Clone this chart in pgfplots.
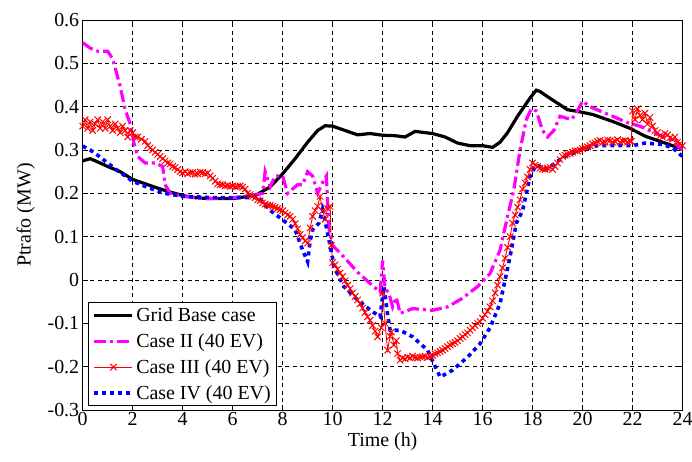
\documentclass[border=0pt]{standalone}
\usepackage{pgfplots}
\pgfplotsset{compat=1.18}
\usepackage{fontspec}
\setmainfont{Liberation Serif}
\newcommand\ff{\fontsize{20}{23}\selectfont}
\definecolor{mag}{RGB}{255,0,255}
\definecolor{rd}{RGB}{255,0,0}
\definecolor{bl}{RGB}{0,0,255}
\begin{document}
\begin{tikzpicture}
\path[use as bounding box] (-82.7bp,-52bp) rectangle (609.3bp,410bp);
\begin{axis}[
  at={(0,0)}, anchor=south west,
  scale only axis, width=599.8bp, height=390bp,
  xmin=0, xmax=24, ymin=-0.3, ymax=0.6,
  xtick={0,2,...,24},
  xticklabels={0,2,4,6,8,10,12,14,16,18,20,22,24},
  ytick={-0.3,-0.2,-0.1,0,0.1,0.2,0.3,0.4,0.5,0.6},
  yticklabels={-0.3,-0.2,-0.1,0,0.1,0.2,0.3,0.4,0.5,0.6},
  tick label style={font=\ff},
  xticklabel style={yshift=1bp},
  grid=major,
  major grid style={black, line width=0.5pt, dash pattern=on 4bp off 3.5bp},
  axis line style={line width=0.9pt},
  major tick length=5bp,
  tick style={black, line width=0.7pt},
  xlabel={Time (h)}, ylabel={Ptrafo (MW)},
  every axis x label/.style={at={(axis description cs:0.5,-0.082)}, anchor=center, font=\ff},
  every axis y label/.style={at={(axis description cs:-0.095,0.5)}, anchor=center, rotate=90, font=\ff},
  legend style={at={(axis description cs:0.0093,0.0103)}, anchor=south west, font=\ff,
    draw=black, line width=0.8pt, inner xsep=4bp, inner ysep=3bp, row sep=6.5bp, cells={anchor=west}},
  legend cell align=left,
  legend image code/.code={\draw[mark repeat=2, mark phase=2, #1] plot coordinates {(0bp,0bp) (19bp,0bp) (38bp,0bp)};},
]
\addplot[black, line width=3.2bp] coordinates {
(0,0.275)(0.3,0.28)(0.7,0.27)(1.0,0.262)(1.5,0.25)(2.0,0.232)(2.5,0.222)(3.0,0.212)(3.5,0.203)(4.0,0.195)(4.5,0.19)(5.0,0.188)(5.5,0.188)(6.0,0.188)(6.5,0.192)(7.0,0.198)(7.5,0.215)(8.0,0.245)(8.5,0.28)(9.0,0.318)(9.4,0.345)(9.7,0.356)(10.0,0.355)(10.5,0.345)(11.0,0.335)(11.5,0.338)(12.0,0.334)(12.5,0.333)(12.9,0.33)(13.3,0.343)(13.7,0.34)(14.0,0.338)(14.5,0.33)(15.0,0.316)(15.5,0.31)(16.0,0.31)(16.4,0.306)(16.7,0.318)(17.0,0.34)(17.4,0.378)(17.9,0.42)(18.15,0.438)(18.3,0.435)(18.6,0.423)(19.0,0.408)(19.4,0.393)(19.9,0.388)(20.4,0.382)(21.2,0.366)(21.9,0.35)(22.5,0.332)(23.2,0.318)(24,0.302)
};
\addlegendentry{Grid Base case}
\addplot[mag, line width=3.2bp, dash pattern=on 12bp off 4bp on 3bp off 4bp] coordinates {
(0,0.548)(0.3,0.535)(0.6,0.528)(1.0,0.528)(1.2,0.51)(1.5,0.447)(1.7,0.393)(1.9,0.36)(2.05,0.316)(2.2,0.285)(2.5,0.27)(2.9,0.27)(3.2,0.262)(3.3,0.22)(3.5,0.2)(4.0,0.193)(5.0,0.188)(6.0,0.19)(6.5,0.193)(7.0,0.197)(7.2,0.2)(7.3,0.25)(7.5,0.215)(7.7,0.24)(8.0,0.24)(8.2,0.20)(8.4,0.21)(8.6,0.22)(8.8,0.22)(9.0,0.25)(9.2,0.24)(9.4,0.2)(9.6,0.225)(9.75,0.24)(9.85,0.12)(10.0,0.08)(10.5,0.05)(11.0,0.018)(11.5,-0.008)(11.9,-0.028)(12.0,0.045)(12.1,-0.02)(12.25,-0.03)(12.4,-0.062)(12.55,-0.04)(12.7,-0.077)(13.2,-0.066)(14.0,-0.07)(14.6,-0.062)(15.2,-0.042)(15.8,-0.015)(16.3,0.015)(16.7,0.069)(17.0,0.147)(17.25,0.208)(17.5,0.30)(17.75,0.37)(17.95,0.395)(18.15,0.39)(18.4,0.345)(18.6,0.33)(18.85,0.345)(19.1,0.378)(19.55,0.37)(19.75,0.385)(20.0,0.413)(20.3,0.40)(20.7,0.39)(21.2,0.378)(21.8,0.363)(22.3,0.355)(23.0,0.336)(23.5,0.325)(24,0.30)
};
\addlegendentry{Case II (40 EV)}
\addplot[rd, line width=0.9pt, mark=x, mark size=4.5bp, mark options={line width=1pt, solid}] coordinates {
(0,0.355)(0.1,0.37)(0.2,0.35)(0.3,0.365)(0.4,0.345)(0.5,0.36)(0.6,0.37)(0.7,0.35)(0.8,0.365)(0.9,0.35)(1.0,0.37)(1.1,0.355)(1.2,0.345)(1.3,0.36)(1.4,0.35)(1.5,0.34)(1.6,0.355)(1.7,0.345)(1.8,0.33)(1.9,0.345)(2.0,0.34)(2.1,0.33)(2.2,0.33)(2.35,0.325)(2.5,0.32)(2.6,0.31)(2.7,0.305)(2.8,0.3)(2.9,0.295)(3.0,0.29)(3.1,0.285)(3.2,0.28)(3.3,0.275)(3.4,0.27)(3.5,0.268)(3.6,0.262)(3.7,0.26)(3.8,0.255)(3.9,0.25)(4.0,0.247)(4.1,0.25)(4.2,0.245)(4.3,0.248)(4.4,0.248)(4.5,0.244)(4.6,0.245)(4.7,0.249)(4.8,0.248)(4.9,0.245)(5.0,0.247)(5.1,0.24)(5.2,0.235)(5.3,0.228)(5.4,0.222)(5.5,0.22)(5.6,0.22)(5.7,0.217)(5.8,0.218)(5.9,0.216)(6.0,0.217)(6.1,0.215)(6.2,0.216)(6.3,0.217)(6.4,0.214)(6.5,0.21)(6.6,0.2)(6.7,0.197)(6.8,0.193)(6.9,0.19)(7.0,0.185)(7.1,0.183)(7.2,0.178)(7.3,0.175)(7.4,0.173)(7.5,0.172)(7.6,0.17)(7.7,0.168)(7.8,0.165)(7.9,0.162)(8.0,0.16)(8.1,0.155)(8.2,0.15)(8.3,0.147)(8.4,0.14)(8.5,0.13)(8.6,0.118)(8.7,0.105)(8.8,0.098)(8.9,0.09)(9.0,0.085)(9.1,0.12)(9.2,0.147)(9.3,0.16)(9.4,0.17)(9.5,0.193)(9.6,0.16)(9.7,0.14)(9.8,0.165)(9.9,0.17)(9.95,0.08)(10.0,0.04)(10.1,0.035)(10.2,0.025)(10.3,0.016)(10.4,0.008)(10.5,-0.002)(10.6,-0.012)(10.7,-0.02)(10.8,-0.03)(10.9,-0.038)(11.0,-0.046)(11.1,-0.055)(11.2,-0.065)(11.3,-0.075)(11.4,-0.085)(11.5,-0.093)(11.6,-0.105)(11.7,-0.118)(11.8,-0.131)(11.95,-0.11)(12.0,-0.03)(12.1,-0.1)(12.2,-0.162)(12.3,-0.13)(12.35,-0.12)(12.45,-0.15)(12.55,-0.14)(12.6,-0.17)(12.7,-0.185)(12.8,-0.18)(12.9,-0.182)(13.0,-0.178)(13.1,-0.18)(13.2,-0.176)(13.3,-0.179)(13.4,-0.18)(13.5,-0.178)(13.6,-0.177)(13.7,-0.176)(13.8,-0.179)(13.9,-0.177)(14.0,-0.174)(14.1,-0.17)(14.2,-0.168)(14.3,-0.165)(14.4,-0.162)(14.5,-0.158)(14.6,-0.154)(14.7,-0.15)(14.8,-0.147)(14.9,-0.144)(15.0,-0.14)(15.1,-0.135)(15.2,-0.131)(15.3,-0.126)(15.4,-0.122)(15.5,-0.116)(15.6,-0.11)(15.7,-0.105)(15.8,-0.1)(15.9,-0.096)(16.0,-0.088)(16.1,-0.08)(16.2,-0.072)(16.3,-0.062)(16.4,-0.048)(16.5,-0.03)(16.6,-0.012)(16.7,0.008)(16.8,0.028)(16.9,0.05)(17.0,0.075)(17.1,0.1)(17.2,0.131)(17.3,0.15)(17.4,0.168)(17.5,0.185)(17.6,0.21)(17.7,0.224)(17.8,0.238)(17.9,0.255)(18.0,0.27)(18.1,0.265)(18.2,0.262)(18.3,0.258)(18.4,0.256)(18.5,0.255)(18.6,0.258)(18.7,0.26)(18.8,0.255)(18.9,0.262)(19.0,0.27)(19.1,0.278)(19.2,0.285)(19.3,0.288)(19.4,0.29)(19.5,0.292)(19.6,0.295)(19.7,0.298)(19.8,0.298)(19.9,0.30)(20.0,0.303)(20.1,0.305)(20.2,0.307)(20.3,0.31)(20.4,0.314)(20.5,0.316)(20.6,0.32)(20.7,0.322)(20.8,0.317)(20.9,0.318)(21.0,0.323)(21.1,0.322)(21.2,0.318)(21.3,0.32)(21.4,0.324)(21.5,0.318)(21.6,0.321)(21.7,0.322)(21.8,0.318)(21.9,0.32)(21.95,0.32)(22.0,0.39)(22.1,0.37)(22.2,0.395)(22.3,0.38)(22.4,0.37)(22.5,0.385)(22.6,0.36)(22.7,0.375)(22.8,0.355)(22.9,0.345)(23.0,0.34)(23.1,0.333)(23.2,0.33)(23.3,0.338)(23.4,0.335)(23.5,0.328)(23.6,0.325)(23.7,0.33)(23.8,0.318)(23.9,0.315)(24,0.31)
};
\addlegendentry{Case III (40 EV)}
\addplot[bl, line width=3.6bp, dash pattern=on 4bp off 4bp] coordinates {
(0,0.309)(0.3,0.3)(0.67,0.285)(1.0,0.27)(1.33,0.255)(1.7,0.24)(2.0,0.228)(2.67,0.212)(3.3,0.2)(4.0,0.193)(5.3,0.19)(6.0,0.19)(6.67,0.19)(7.0,0.193)(7.2,0.18)(7.47,0.162)(8.0,0.139)(8.5,0.116)(8.8,0.069)(9.0,0.042)(9.1,0.09)(9.2,0.116)(9.45,0.131)(9.6,0.162)(9.8,0.108)(10.0,0.05)(10.05,0.031)(10.45,-0.015)(11.0,-0.046)(11.5,-0.069)(11.9,-0.085)(12.05,-0.015)(12.2,-0.08)(12.3,-0.116)(12.7,-0.116)(13.2,-0.131)(13.8,-0.162)(14.3,-0.224)(14.8,-0.208)(15.4,-0.178)(15.9,-0.147)(16.3,-0.11)(16.7,-0.054)(17.1,0.054)(17.35,0.131)(17.6,0.16)(17.9,0.239)(18.15,0.266)(18.55,0.255)(19.2,0.282)(19.9,0.30)(20.6,0.31)(21.2,0.31)(22.0,0.31)(22.5,0.316)(23.2,0.313)(23.6,0.305)(24,0.285)
};
\addlegendentry{Case IV (40 EV)}
\end{axis}
\end{tikzpicture}
\end{document}
